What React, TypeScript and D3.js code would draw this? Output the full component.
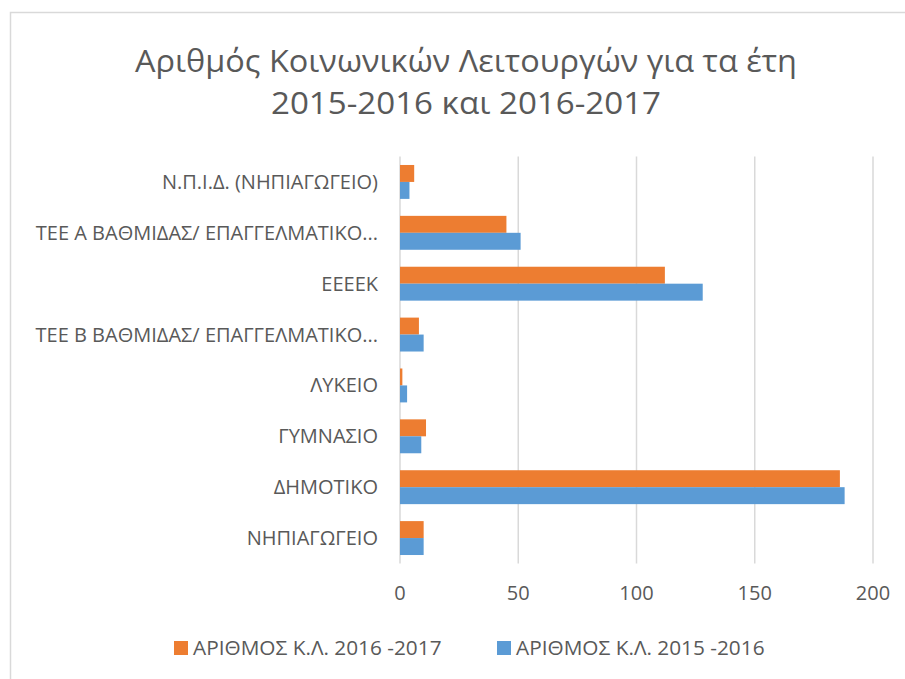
import React from "react";
import * as d3 from "d3";

const categories = [
  "Ν.Π.Ι.Δ. (ΝΗΠΙΑΓΩΓΕΙΟ)",
  "ΤΕΕ Α ΒΑΘΜΙΔΑΣ/ ΕΠΑΓΓΕΛΜΑΤΙΚΟ...",
  "ΕΕΕΕΚ",
  "ΤΕΕ Β ΒΑΘΜΙΔΑΣ/ ΕΠΑΓΓΕΛΜΑΤΙΚΟ...",
  "ΛΥΚΕΙΟ",
  "ΓΥΜΝΑΣΙΟ",
  "ΔΗΜΟΤΙΚΟ",
  "ΝΗΠΙΑΓΩΓΕΙΟ",
];
const values2016_2017 = [6, 45, 112, 8, 1, 11, 186, 10];
const values2015_2016 = [4, 51, 128, 10, 3, 9, 188, 10];
const seriesNames = ["ΑΡΙΘΜΟΣ Κ.Λ. 2016 -2017", "ΑΡΙΘΜΟΣ Κ.Λ. 2015 -2016"];
const xTicks = [0, 50, 100, 150, 200];
const titleLines = [
  "Αριθμός Κοινωνικών Λειτουργών για τα έτη",
  "2015-2016 και 2016-2017",
];

const W = 905;
const H = 679;
const FONT = "'Open Sans', 'Noto Sans', sans-serif";
const TEXT = "#595959";
const ORANGE = "#ED7D31";
const BLUE = "#5B9BD5";
const GRID = "#d9d9d9";

export default function App() {
  const x = d3.scaleLinear().domain([0, 200]).range([400, 873]);
  const y = d3.scaleBand().domain(categories).range([156.5, 563.5]).paddingInner(0).paddingOuter(0);
  const inner = d3
    .scaleBand()
    .domain(["a", "b"])
    .range([0, y.bandwidth()])
    .paddingInner(0)
    .paddingOuter(0.5);
  const series = [
    { key: "a", name: seriesNames[0], values: values2016_2017, color: ORANGE },
    { key: "b", name: seriesNames[1], values: values2015_2016, color: BLUE },
  ];
  return (
    <svg
      width={W}
      height={H}
      style={{ position: "absolute", left: 0, top: 0, background: "#fff" }}
      fontFamily={FONT}
    >
      <rect x={10.5} y={12.5} width={W} height={H} fill="#fff" stroke={GRID} strokeWidth={1.5} />
      {titleLines.map((t, i) => (
        <text
          key={i}
          x={466}
          y={72 + i * 42}
          textAnchor="middle"
          fontSize={31}
          fill={TEXT}
          textLength={i === 0 ? 662 : 390}
          lengthAdjust="spacingAndGlyphs"
        >
          {t}
        </text>
      ))}
      {xTicks.map((t) => (
        <g key={t}>
          <line x1={x(t)} x2={x(t)} y1={156.5} y2={563.5} stroke={GRID} strokeWidth={1.5} />
          <text x={x(t)} y={600} textAnchor="middle" fontSize={20} fill={TEXT}>
            {t}
          </text>
        </g>
      ))}
      {series.map((s) =>
        s.values.map((v, i) => (
          <rect
            key={s.key + i}
            x={x(0)}
            y={(y(categories[i]) as number) + (inner(s.key) as number)}
            width={x(v) - x(0)}
            height={inner.bandwidth()}
            fill={s.color}
          />
        ))
      )}
      {categories.map((c) => (
        <text
          key={c}
          x={378}
          y={(y(c) as number) + y.bandwidth() / 2 + 7}
          textAnchor="end"
          fontSize={20}
          fill={TEXT}
        >
          {c}
        </text>
      ))}
      {series.map((s, i) => (
        <g key={s.key} transform={`translate(${174 + i * 323},641)`}>
          <rect x={0} y={0} width={14} height={14} fill={s.color} />
          <text x={19} y={14} fontSize={20.8} fill={TEXT}>
            {s.name}
          </text>
        </g>
      ))}
    </svg>
  );
}
